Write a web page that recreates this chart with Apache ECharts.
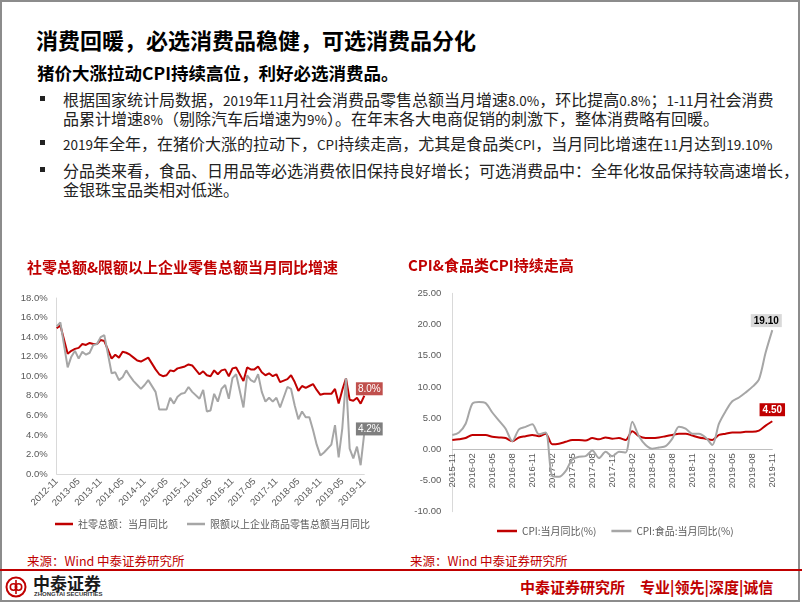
<!DOCTYPE html>
<html><head><meta charset="utf-8">
<script src="https://cdn.jsdelivr.net/npm/echarts@6/dist/echarts.min.js"></script>
<style>
html,body{margin:0;padding:0;background:#fff;}
#page{position:relative;width:802px;height:602px;overflow:hidden;font-family:"Noto Sans CJK SC","Noto Sans",sans-serif;background:#fff;}
#frame{position:absolute;left:0;top:0;width:800px;height:602px;box-sizing:border-box;border:2px solid #8c8c8c;}
.t{position:absolute;white-space:nowrap;}
.body{font-size:16px;line-height:18px;color:#222;}
.n{font-size:13.5px;}
.b{position:absolute;width:5px;height:5px;background:#222;}
#chart{position:absolute;left:0;top:0;width:802px;height:602px;}
</style></head>
<body>
<div id="page">
  <div id="frame"></div>
  <div class="t" style="left:36px;top:26px;font-size:22px;line-height:26px;font-weight:700;color:#000;">消费回暖，必选消费品稳健，可选消费品分化</div>
  <div class="t" style="left:37px;top:62px;font-size:17.5px;line-height:21px;font-weight:700;color:#000;">猪价大涨拉动CPI持续高位，利好必选消费品。</div>
  <div class="b" style="left:40px;top:96px;"></div>
  <div class="t body" style="left:63px;top:90px;">根据国家统计局数据，<span class="n">2019</span>年<span class="n">11</span>月社会消费品零售总额当月增速<span class="n">8.0%</span>，环比提高<span class="n">0.8%</span>；<span class="n">1-11</span>月社会消费</div>
  <div class="t body" style="left:63px;top:109px;">品累计增速<span class="n">8%</span>（剔除汽车后增速为<span class="n">9%</span>）。在年末各大电商促销的刺激下，整体消费略有回暖。</div>
  <div class="b" style="left:40px;top:140px;"></div>
  <div class="t body" style="left:63px;top:134px;"><span class="n">2019</span>年全年，在猪价大涨的拉动下，<span class="n">CPI</span>持续走高，尤其是食品类<span class="n">CPI</span>，当月同比增速在<span class="n">11</span>月达到<span class="n">19.10%</span></div>
  <div class="b" style="left:40px;top:167px;"></div>
  <div class="t body" style="left:63px;top:161px;">分品类来看，食品、日用品等必选消费依旧保持良好增长；可选消费品中：全年化妆品保持较高速增长，</div>
  <div class="t body" style="left:63px;top:180px;">金银珠宝品类相对低迷。</div>

  <div class="t" style="left:27px;top:553px;font-size:12.5px;line-height:16px;color:#c00000;">来源：Wind 中泰证券研究所</div>
  <div class="t" style="left:410px;top:553px;font-size:12.5px;line-height:16px;color:#c00000;">来源：Wind 中泰证券研究所</div>
  <div style="position:absolute;left:0;top:569px;width:802px;height:2px;background:#c00000;"></div>
  <svg style="position:absolute;left:5px;top:576px;" width="22" height="22" viewBox="0 0 22 22">
    <circle cx="11" cy="11" r="9.5" fill="none" stroke="#c00000" stroke-width="2"/>
    <circle cx="8.5" cy="11" r="3.2" fill="none" stroke="#c00000" stroke-width="1.6"/>
    <circle cx="13.5" cy="11" r="3.2" fill="none" stroke="#c00000" stroke-width="1.6"/>
    <line x1="11" y1="4" x2="11" y2="18" stroke="#c00000" stroke-width="1.6"/>
  </svg>
  <div class="t" style="left:33px;top:573px;font-size:17px;line-height:20px;font-weight:700;color:#1a1a1a;">中泰证券</div>
  <div class="t" style="left:34px;top:591px;font-size:6px;line-height:7px;font-weight:700;color:#333;font-family:'Liberation Sans',sans-serif;">ZHONGTAI SECURITIES</div>
  <div class="t" style="left:520px;top:577px;font-size:15px;line-height:20px;font-weight:700;color:#c00000;">中泰证券研究所　专业|领先|深度|诚信</div>
  <div id="chart"></div>
</div>
<script>
// ---------- Data ----------
function monthRange(y0, m0, y1, m1) {
  const out = [];
  let y = y0, m = m0;
  while (y < y1 || (y === y1 && m <= m1)) {
    out.push(y + '-' + (m < 10 ? '0' + m : '' + m));
    m++; if (m > 12) { m = 1; y++; }
  }
  return out;
}
const retailMonths = monthRange(2012, 11, 2019, 11);   // 85 months
const cpiMonths = monthRange(2015, 11, 2019, 11);      // 49 months

// 社零总额：当月同比 (%)  (January values not published -> null)
const retailTotal = [
  14.9, 15.2,
  null, 12.3, 12.6, 12.8, 12.9, 13.3, 13.2, 13.4, 13.3, 13.3, 13.7, 13.6,
  null, 11.8, 12.2, 11.9, 12.5, 12.4, 12.2, 11.9, 11.6, 11.5, 11.7, 11.9,
  null, 10.7, 10.2, 10.0, 10.1, 10.6, 10.5, 10.8, 10.9, 11.0, 11.2, 11.1,
  null, 10.2, 10.5, 10.1, 10.0, 10.6, 10.2, 10.6, 10.7, 10.0, 10.8, 10.9,
  null, 9.5, 10.9, 10.7, 10.7, 11.0, 10.4, 10.1, 10.3, 10.0, 10.2, 9.4,
  null, 9.7, 10.1, 9.4, 8.5, 9.0, 8.8, 9.0, 9.2, 8.6, 8.1, 8.2,
  null, 8.2, 8.7, 7.2, 8.6, 9.8, 7.6, 7.5, 7.8, 7.2, 8.0
];
// 限额以上企业商品零售总额：当月同比 (%)
const retailAbove = [
  15.1, 15.5,
  null, 10.9, 12.0, 12.6, 11.8, 12.5, 12.2, 12.4, 13.2, 13.3, 14.0, 14.2,
  null, 10.3, 10.4, 9.6, 9.9, 10.6, 10.0, 9.5, 9.1, 8.7, 9.1, 9.6,
  null, 8.4, 6.6, 6.6, 6.6, 7.8, 7.2, 7.9, 8.2, 8.3, 8.9, 8.4,
  null, 7.7, 8.6, 6.4, 6.5, 8.2, 7.4, 8.7, 9.1, 7.7, 9.8, 10.2,
  null, 6.8, 10.1, 9.6, 9.4, 10.2, 8.4, 7.4, 7.8, 7.4, 7.8, 6.8,
  null, 8.9, 8.7, 7.0, 5.6, 6.4, 5.8, 5.8, 4.5, 3.0, 1.9, 2.2,
  null, 3.0, 5.0, 1.7, 4.7, 9.8, 2.6, 1.6, 2.8, 0.9, 4.2
];
// CPI：当月同比 (%)
const cpiAll = [
  1.5, 1.6,
  1.8, 2.3, 2.3, 2.3, 2.0, 1.9, 1.8, 1.3, 1.9, 2.1, 2.3, 2.1,
  2.5, 0.8, 0.9, 1.2, 1.5, 1.5, 1.4, 1.8, 1.6, 1.9, 1.7, 1.8,
  1.5, 2.9, 2.1, 1.8, 1.8, 1.9, 2.1, 2.3, 2.5, 2.5, 2.2, 1.9,
  1.7, 1.5, 2.3, 2.5, 2.7, 2.7, 2.8, 2.8, 3.0, 3.8, 4.5
];
// CPI：食品：当月同比 (%)
const cpiFood = [
  2.3, 2.7,
  4.1, 7.3, 7.6, 7.4, 5.9, 4.6, 3.3, 1.3, 3.2, 3.6, 4.0, 2.4,
  2.7, -4.3, -4.4, -3.5, -1.6, -1.2, -1.1, -0.2, -1.4, -0.4, -1.1, -0.4,
  -0.5, 4.4, 2.1, 0.7, 0.1, 0.3, 0.5, 1.7, 3.6, 3.3, 2.5, 2.5,
  1.9, 0.7, 4.1, 6.1, 7.7, 8.3, 9.1, 10.0, 11.2, 15.5, 19.1
];
const leftTitle = '社零总额&限额以上企业零售总额当月同比增速';
const rightTitle = 'CPI&食品类CPI持续走高';
const leftNames = ['社零总额：当月同比', '限额以上企业商品零售总额当月同比'];
const rightNames = ['CPI:当月同比(%)', 'CPI:食品:当月同比(%)'];

// ---------- Helpers ----------
function withLastLabel(arr, labelOpt) {
  return arr.map((v, i) => i === arr.length - 1 ? { value: v, label: Object.assign({ show: true }, labelOpt) } : v);
}
const axisFont = 'Liberation Sans';
const red = '#c00000', gray = '#a6a6a6';

// right grid geometry
const rTop = 293.3, rHeight = 218.4, rMin = -10, rMax = 25;
const zeroOffset = -(rHeight * (0 - rMin) / (rMax - rMin)); // move x axis up to the 0 line

const chart = echarts.init(document.getElementById('chart'), null, { renderer: 'canvas' });
chart.setOption({
  animation: false,
  backgroundColor: 'transparent',
  title: [
    { text: leftTitle, left: 27, top: 260, padding: 0,
      textStyle: { color: red, fontSize: 15, fontWeight: 'bold', fontFamily: 'Noto Sans CJK SC' } },
    { text: rightTitle, left: 408, top: 258, padding: 0,
      textStyle: { color: red, fontSize: 15, fontWeight: 'bold', fontFamily: 'Noto Sans CJK SC' } }
  ],
  legend: [
    { data: leftNames, left: 55, top: 519, padding: 0, icon: 'rect', itemWidth: 18, itemHeight: 2.5, itemGap: 19,
      textStyle: { fontSize: 10, color: '#595959', fontFamily: 'Noto Sans CJK SC' } },
    { data: rightNames, left: 497, top: 526, padding: 0, icon: 'rect', itemWidth: 20, itemHeight: 2.5, itemGap: 15,
      textStyle: { fontSize: 10, color: '#595959', fontFamily: 'Noto Sans CJK SC' } }
  ],
  grid: [
    { left: 56.7, top: 298, width: 307.6, height: 176 },
    { left: 452.3, top: rTop, width: 320, height: rHeight }
  ],
  xAxis: [
    { type: 'category', gridIndex: 0, data: retailMonths, boundaryGap: false,
      axisLine: { lineStyle: { color: '#d9d9d9', width: 1 } }, axisTick: { show: false },
      axisLabel: { interval: 5, rotate: 45, fontSize: 9.5, color: '#595959', margin: 6, fontFamily: axisFont } },
    { type: 'category', gridIndex: 1, data: cpiMonths, boundaryGap: false, position: 'bottom', offset: zeroOffset,
      axisLine: { onZero: false, lineStyle: { color: '#bfbfbf', width: 1 } }, axisTick: { show: false },
      axisLabel: { interval: 2, rotate: 90, fontSize: 9.5, color: '#595959', margin: 4, fontFamily: axisFont } }
  ],
  yAxis: [
    { type: 'value', gridIndex: 0, min: 0, max: 18, interval: 2,
      axisLine: { show: true, lineStyle: { color: '#d9d9d9' } }, axisTick: { show: false }, splitLine: { show: false },
      axisLabel: { formatter: v => v.toFixed(1) + '%', fontSize: 9.5, color: '#595959', margin: 9, fontFamily: axisFont } },
    { type: 'value', gridIndex: 1, min: rMin, max: rMax, interval: 5,
      axisLine: { show: true, lineStyle: { color: '#d9d9d9' } }, axisTick: { show: false }, splitLine: { show: false },
      axisLabel: { formatter: v => v.toFixed(2), fontSize: 9.5, color: '#595959', margin: 11, fontFamily: axisFont } }
  ],
  series: [
    { name: leftNames[0], type: 'line', xAxisIndex: 0, yAxisIndex: 0, connectNulls: true,
      symbol: 'circle', symbolSize: 0, showSymbol: true,
      lineStyle: { color: red, width: 2 }, itemStyle: { color: red },
      data: withLastLabel(retailTotal, { position: 'inside', offset: [5, -7], formatter: p => p.value.toFixed(1) + '%',
        backgroundColor: '#c0504d', color: '#fff', fontSize: 10, padding: [2, 2, 1, 2], fontFamily: axisFont }) },
    { name: leftNames[1], type: 'line', xAxisIndex: 0, yAxisIndex: 0, connectNulls: true,
      symbol: 'circle', symbolSize: 0, showSymbol: true,
      lineStyle: { color: gray, width: 2 }, itemStyle: { color: gray },
      data: withLastLabel(retailAbove, { position: 'inside', offset: [5, -4], formatter: p => p.value.toFixed(1) + '%',
        backgroundColor: '#7f7f7f', color: '#fff', fontSize: 10, padding: [2, 2, 1, 2], fontFamily: axisFont }) },
    { name: rightNames[0], type: 'line', xAxisIndex: 1, yAxisIndex: 1, smooth: 0.3,
      symbol: 'circle', symbolSize: 0, showSymbol: true,
      lineStyle: { color: red, width: 2 }, itemStyle: { color: red },
      data: withLastLabel(cpiAll, { position: 'top', distance: 5, formatter: p => p.value.toFixed(2),
        backgroundColor: red, color: '#fff', fontWeight: 'bold', fontSize: 10, padding: [2, 3, 1, 3], fontFamily: axisFont }) },
    { name: rightNames[1], type: 'line', xAxisIndex: 1, yAxisIndex: 1, smooth: 0.3,
      symbol: 'circle', symbolSize: 0, showSymbol: true,
      lineStyle: { color: gray, width: 2 }, itemStyle: { color: gray },
      data: withLastLabel(cpiFood, { position: 'top', distance: 3, offset: [-6, 0], formatter: p => p.value.toFixed(2),
        backgroundColor: '#d9d9d9', color: '#000', fontWeight: 'bold', fontSize: 10, padding: [2, 3, 1, 3], fontFamily: axisFont }) }
  ]
});
</script>
</body></html>
